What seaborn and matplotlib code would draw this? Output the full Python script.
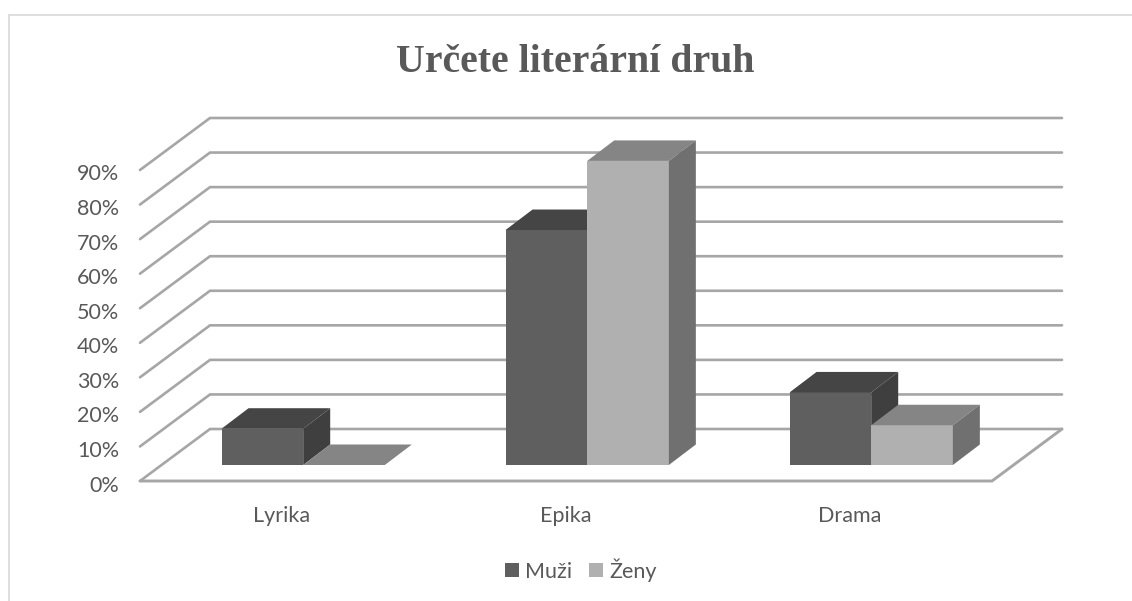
import matplotlib
matplotlib.use("Agg")
import matplotlib.pyplot as plt
from matplotlib.lines import Line2D
from matplotlib.patches import Polygon
from matplotlib.transforms import ScaledTranslation
import pandas as pd
import seaborn as sns

# values
categories = ["Lyrika", "Epika", "Drama"]
muzi = [10.5, 68, 21]
zeny = [0, 88, 11.5]
y_ticks = [0, 10, 20, 30, 40, 50, 60, 70, 80, 90]

W, H = 1132, 601
TEXT = "#595959"
GRID = "#a6a6a6"
FRONT = {"Muži": "#5f5f5f", "Ženy": "#b0b0b0"}
TOP = {"Muži": "#454545", "Ženy": "#858585"}
SIDE = {"Muži": "#3f3f3f", "Ženy": "#707070"}

sns.set_theme(style="white")
plt.rcParams["font.family"] = ["Lato", "DejaVu Sans"]

df = pd.DataFrame({
    "Druh": categories * 2,
    "Pohlavi": ["Muži"] * len(muzi) + ["Ženy"] * len(zeny),
    "Podil": muzi + zeny,
})

fig = plt.figure(figsize=(W / 100, H / 100), dpi=100, facecolor="white")
# axes = front plane of the fake 3D box, in pixels of the reference
ax = fig.add_axes([140 / W, 1 - 481 / H, 852 / W, 311 / H])
ax.patch.set_alpha(0)

sns.barplot(data=df, x="Druh", y="Podil", hue="Pohlavi", order=categories,
            hue_order=["Muži", "Ženy"], palette=FRONT, width=0.575, saturation=1,
            linewidth=0, ax=ax, zorder=3, legend=True)
ax.set_xlim(-0.5, 2.5)
ax.set_ylim(0, 90)

# depth of the box in data units
px_x = 3 / 852
px_y = 90 / 311
wall_dx, wall_dy = 70 * px_x, 52 * px_y
shift_dx, shift_dy = 21.2 * px_x, 16 * px_y
bar_dx, bar_dy = 27 * px_x, 20.5 * px_y

# walls and floor
x0, x1 = ax.get_xlim()
for v in y_ticks:
    ax.plot([x0, x0 + wall_dx, x1 + wall_dx], [v, v + wall_dy, v + wall_dy],
            color=GRID, lw=1.9, clip_on=False, zorder=1, solid_joinstyle="miter")
ax.plot([x0, x1, x1 + wall_dx], [0, 0, wall_dy], color=GRID, lw=2.1,
        clip_on=False, zorder=1, solid_joinstyle="miter")

# push seaborn's bars back onto the floor, then add side and top faces
for i, (name, bars) in enumerate(zip(["Muži", "Ženy"], ax.containers)):
    for bar in bars:
        bar.set_x(bar.get_x() + shift_dx)
        bar.set_y(shift_dy)
        bar.set_clip_on(False)
        bar.set_zorder(3 + i)
        left, right = bar.get_x(), bar.get_x() + bar.get_width()
        low, high = shift_dy, shift_dy + bar.get_height()
        ax.add_patch(Polygon([(left, high), (right, high), (right + bar_dx, high + bar_dy),
                              (left + bar_dx, high + bar_dy)], closed=True, fc=TOP[name],
                             ec="none", clip_on=False, zorder=3 + i))
        ax.add_patch(Polygon([(right, low), (right + bar_dx, low + bar_dy),
                              (right + bar_dx, high + bar_dy), (right, high)], closed=True,
                             fc=SIDE[name], ec="none", clip_on=False, zorder=3 + i))

ax.set(xlabel="", ylabel="")
ax.set_yticks(y_ticks)
ax.set_yticklabels([f"{v}%" for v in y_ticks])
ax.tick_params(axis="y", length=0, pad=15, labelsize=15.5, labelcolor=TEXT)
ax.tick_params(axis="x", length=0, pad=18, labelsize=15.5, labelcolor=TEXT)
sns.despine(ax=ax, left=True, bottom=True)

# tick labels sit a little low in the reference
nudge = ScaledTranslation(0, -2.5 / 100, fig.dpi_scale_trans)
for lab in ax.get_yticklabels():
    lab.set_transform(lab.get_transform() + nudge)

handles, labels = ax.get_legend_handles_labels()
ax.legend(handles, labels, ncol=2, frameon=False, loc="center",
          bbox_to_anchor=(581 / W, 1 - 570 / H), bbox_transform=fig.transFigure,
          fontsize=15.5, labelcolor=TEXT, handlelength=0.65, handleheight=0.65,
          handletextpad=0.3, columnspacing=0.8)

fig.text(575.5 / W, 1 - 62 / H, "Určete literární druh", ha="center", va="center",
         family="Liberation Serif", weight="bold", fontsize=28.6, color=TEXT)

# chart frame, cut off by the screenshot at right and bottom
for xs, ys in [((8.5, 8.5), (H, 14.5)), ((8.5, W), (14.5, 14.5))]:
    fig.add_artist(Line2D([x / W for x in xs], [1 - y / H for y in ys],
                          color="#d9d9d9", lw=1.2))

fig.savefig("out.png", dpi=100)
